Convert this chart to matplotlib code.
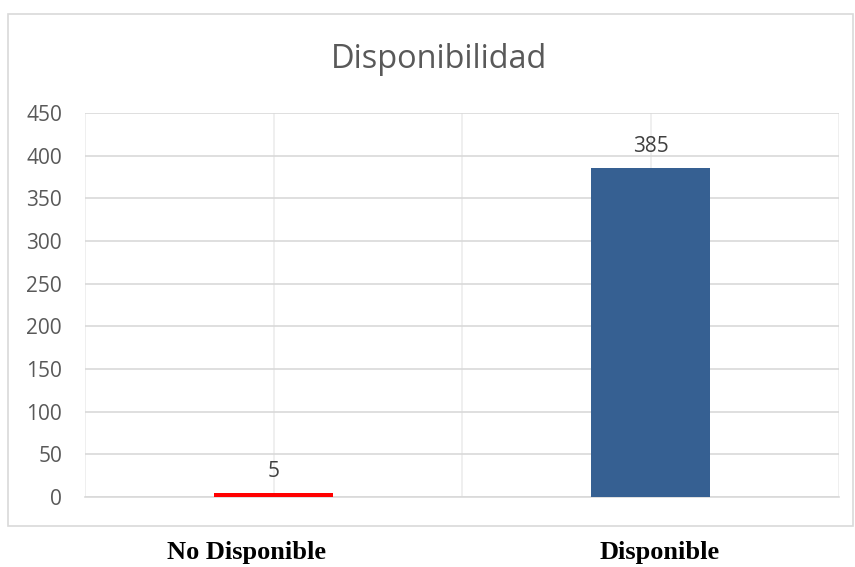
import matplotlib.pyplot as plt
from matplotlib.patches import Rectangle

# Chart data
categories = ['No Disponible', 'Disponible']
values = [5, 385]
bar_colors = ['#ff0000', '#366092']
y_ticks = [0, 50, 100, 150, 200, 250, 300, 350, 400, 450]

W, H = 855, 567
fig = plt.figure(figsize=(W / 100, H / 100), dpi=100)

# chart area border
fig.patches.append(Rectangle((8 / W, 1 - 526 / H), 845 / W, 512 / H,
                             transform=fig.transFigure, fill=False,
                             edgecolor='#d9d9d9', linewidth=1.2))

ax = fig.add_axes([85 / W, 1 - 497 / H, 754 / W, 384 / H])
x = list(range(len(categories)))
ax.bar(x, values, width=0.315, color=bar_colors, zorder=3)

for xi, v in zip(x, values):
    ax.annotate(str(v), (xi, v), xytext=(0, 8), textcoords='offset points',
                ha='center', va='bottom', fontsize=15, color='#404040',
                family='Open Sans')

ax.set_xlim(-0.5, 1.5)
ax.set_ylim(0, 450)
ax.set_yticks(y_ticks)
ax.set_yticklabels([str(t) for t in y_ticks], family='Open Sans',
                   fontsize=15, color='#595959')
ax.set_xticks([-0.5, 0, 0.5, 1, 1.5])
ax.set_xticklabels([])
ax.tick_params(length=0)
ax.tick_params(axis='y', pad=16.5)

ax.grid(axis='y', color='#d9d9d9', linewidth=1.2, zorder=0)
ax.grid(axis='x', color='#ececec', linewidth=1.2, zorder=0)
for s in ['top', 'left', 'right']:
    ax.spines[s].set_visible(False)
ax.spines['bottom'].set_color('#d9d9d9')
ax.spines['bottom'].set_linewidth(1.2)

fig.text(439 / W, 1 - 59 / H, 'Disponibilidad', ha='center', va='center',
         fontsize=23.4, color='#595959', family='Open Sans')

# category labels below the chart
label_x = [246, 660]
for lx, cat in zip(label_x, categories):
    fig.text(lx / W, 1 - 553 / H, cat, ha='center', va='center',
             fontsize=19, fontweight='bold', family='Liberation Serif')

plt.savefig('out.png', dpi=100)
plt.close()
